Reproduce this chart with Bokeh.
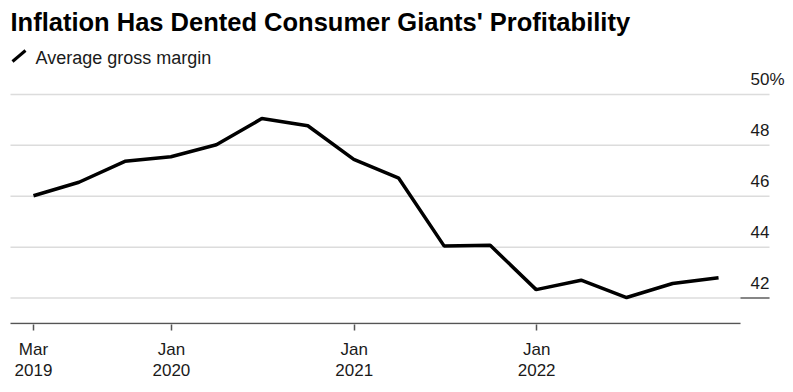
import pandas as pd
from bokeh.plotting import figure
from bokeh.models import Range1d, FixedTicker, Label, Arrow
from bokeh.embed import file_html
from bokeh.resources import INLINE

# ---- data ----
TITLE = "Inflation Has Dented Consumer Giants' Profitability"
SERIES_NAME = "Average gross margin"
dates = ["2019-03-31", "2019-06-30", "2019-09-30", "2019-12-31",
         "2020-03-31", "2020-06-30", "2020-09-30", "2020-12-31",
         "2021-03-31", "2021-06-30", "2021-09-30", "2021-12-31",
         "2022-03-31", "2022-06-30", "2022-09-30", "2022-12-31"]
margin = [46.02, 46.55, 47.37, 47.55, 48.02, 49.05, 48.77, 47.45,
          46.71, 44.04, 44.07, 42.33, 42.70, 42.02, 42.57, 42.80]
x_tick_dates = ["2019-03-31", "2020-01-01", "2021-01-01", "2022-01-01"]
x_tick_labels = ["Mar\n2019", "Jan\n2020", "Jan\n2021", "Jan\n2022"]
y_ticks = [42, 44, 46, 48, 50]
y_tick_labels = ["42", "44", "46", "48", "50"]

# ---- layout constants ----
X_START, X_END = "2019-01-24", "2023-05-14"          # frame edges
GRID_START, GRID_END, AXIS_END = "2019-02-13", "2023-04-12", "2023-02-13"
Y_START, Y_END = 40.96, 53.69
BASE_Y = 41


def ms(d):
    return float(pd.Timestamp(d).value // 10**6)


xs = [ms(d) for d in dates]
x_ticks = [ms(d) for d in x_tick_dates]

FONT = "Liberation Sans"
TXT = "#1a1a1a"

p = figure(width=785, height=384, output_backend="svg", toolbar_location=None,
           x_range=Range1d(ms(X_START), ms(X_END)), y_range=Range1d(Y_START, Y_END),
           min_border_left=0, min_border_right=0, min_border_top=0, min_border_bottom=60)
p.outline_line_color = None
p.background_fill_color = "white"
p.border_fill_color = "white"

p.yaxis.visible = False
p.ygrid.visible = False
p.xgrid.visible = False

# x axis
ax = p.xaxis[0]
ax.ticker = FixedTicker(ticks=x_ticks)
ax.major_label_overrides = {t: l for t, l in zip(x_ticks, x_tick_labels)}
ax.axis_line_color = None
ax.major_tick_in = 0
ax.major_tick_out = 6
ax.major_tick_line_color = "#555555"
ax.major_tick_line_width = 1.5
ax.minor_tick_line_color = None
ax.major_label_text_font = FONT
ax.major_label_text_font_size = "17px"
ax.major_label_text_color = TXT
ax.major_label_standoff = 9
ax.major_label_text_line_height = 1.11

# horizontal grid lines
n = len(y_ticks)
p.segment(x0=[ms(GRID_START)] * n, y0=y_ticks, x1=[ms(GRID_END)] * n, y1=y_ticks,
          line_color="#dcdcdc", line_width=1.5)
# baseline and low marker
p.segment(x0=[ms(GRID_START)], y0=[BASE_Y], x1=[ms(AXIS_END)], y1=[BASE_Y],
          line_color="#555555", line_width=1.5)
p.segment(x0=[ms(AXIS_END)], y0=[y_ticks[0]], x1=[ms(GRID_END)], y1=[y_ticks[0]],
          line_color="#666666", line_width=1.5)

# series
p.line(xs, margin, line_color="black", line_width=3.5)

# y tick labels
p.text(x=[ms(GRID_END)] * n, y=y_ticks, text=y_tick_labels,
       text_align="right", text_baseline="alphabetic", y_offset=-15,
       text_font={"value": FONT}, text_font_size={"value": "17px"}, text_color=TXT)
p.text(x=[ms(GRID_END)], y=[y_ticks[-1]], text=["%"],
       text_align="left", text_baseline="alphabetic", y_offset=-15,
       text_font={"value": FONT}, text_font_size={"value": "17px"}, text_color=TXT)

# title and legend
p.add_layout(Label(x=10, y=303, x_units="screen", y_units="screen", text=TITLE,
                   text_font=FONT, text_font_style="bold", text_font_size="25.5px",
                   text_color="black", text_baseline="alphabetic"))
p.add_layout(Label(x=35, y=267, x_units="screen", y_units="screen", text=SERIES_NAME,
                   text_font=FONT, text_font_size="18px", text_color=TXT,
                   text_baseline="alphabetic"))
p.add_layout(Arrow(x_start=12, y_start=263, x_end=25, y_end=274,
                   start_units="screen", end_units="screen", end=None,
                   line_width=3, line_color="black"))

open("out.html", "w").write(file_html(p, INLINE))
